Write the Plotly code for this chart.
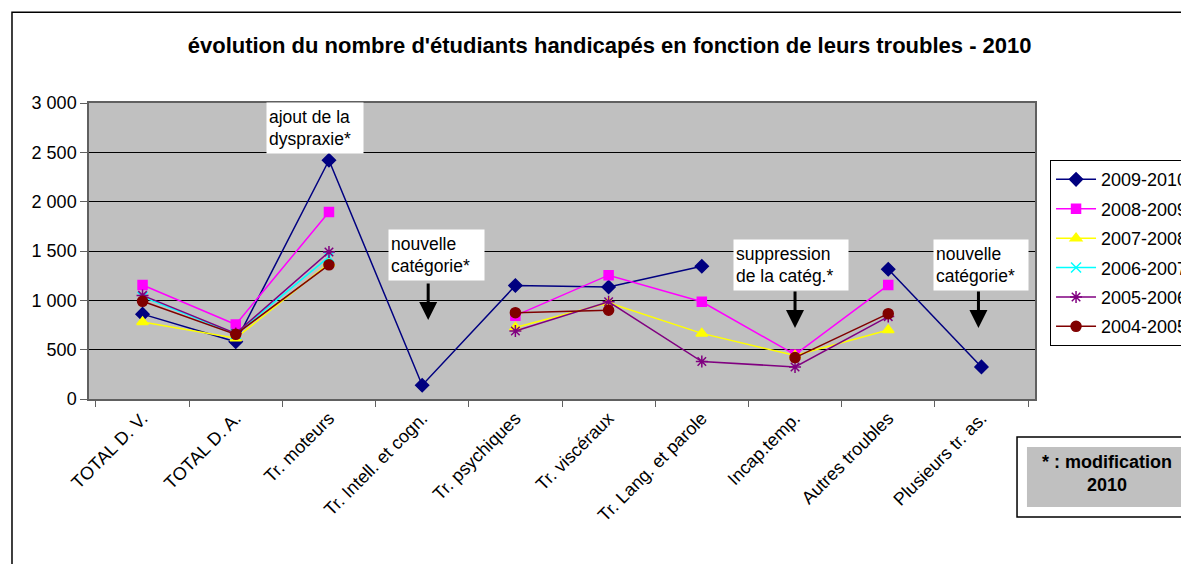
import plotly.graph_objects as go

# Data
categories = ["TOTAL D. V.", "TOTAL D. A.", "Tr. moteurs", "Tr. Intell. et cogn.", "Tr. psychiques",
              "Tr. viscéraux", "Tr. Lang. et parole", "Incap.temp.", "Autres troubles", "Plusieurs tr. as."]

y_2009_2010 = [860, 580, 2420, 140, 1150, 1135, 1345, None, 1315, 325]
y_2008_2009 = [1155, 755, 1895, None, 845, 1255, 985, 450, 1155, None]
y_2007_2008 = [780, 615, 1375, None, 725, 975, 665, 440, 700, None]
y_2006_2007 = [1035, 660, 1440, None, None, None, None, None, None, None]
y_2005_2006 = [1050, 665, 1490, None, 690, 985, 380, 325, 835, None]
y_2004_2005 = [990, 655, 1360, None, 875, 900, None, 420, 865, None]

series_names = ["2009-2010", "2008-2009", "2007-2008", "2006-2007", "2005-2006", "2004-2005"]
series_values = [y_2009_2010, y_2008_2009, y_2007_2008, y_2006_2007, y_2005_2006, y_2004_2005]
colors = ["#000080", "#FF00FF", "#FFFF00", "#00FFFF", "#800080", "#800000"]
symbols = ["diamond", "square", "triangle-up", "x-thin-open", "asterisk-open", "circle"]
sizes = [10, 9, 10, 10, 10, 10]

y_ticks = [0, 500, 1000, 1500, 2000, 2500, 3000]
y_tick_labels = ["0", "500", "1 000", "1 500", "2 000", "2 500", "3 000"]

# Make figure
fig = go.Figure()
for name, vals, col, sym, sz in zip(series_names, series_values, colors, symbols, sizes):
    fig.add_trace(go.Scatter(
        x=categories, y=vals, name=name, mode="lines+markers",
        legendgroup=name,
        line=dict(color=col, width=1.5),
        marker=dict(symbol=sym, size=sz, color=col, line=dict(color=col, width=1.5)),
    ))

font = "Arial, Liberation Sans, sans-serif"

# Text boxes (text, category, y value, x shift, box width)
notes = [
    ("ajout de la<br>dyspraxie*", "Tr. moteurs", 2745, -14, 92),
    ("nouvelle<br>catégorie*", "Tr. Intell. et cogn.", 1460, 14, 91),
    ("suppression<br>de la catég.*", "Incap.temp.", 1360, -4, 110),
    ("nouvelle<br>catégorie*", "Plusieurs tr. as.", 1360, 0, 90),
]
for txt, cat, yv, xs, w in notes:
    fig.add_annotation(x=cat, y=yv, text=txt, showarrow=False, xshift=xs,
                       width=w, height=46, bgcolor="white", borderpad=2, align="left",
                       font=dict(family=font, size=17.5, color="black"))

# Arrows
arrows = [("Tr. Intell. et cogn.", 800, 6), ("Incap.temp.", 720, 0), ("Plusieurs tr. as.", 720, -3)]
for cat, yv, xs in arrows:
    fig.add_annotation(x=cat, y=yv, text="", showarrow=True, ax=0, ay=-38, xshift=xs,
                       arrowhead=2, arrowsize=1.2, arrowwidth=3, arrowcolor="black")

# Modification box
fig.add_shape(type="rect", xref="paper", yref="paper", x0=0.981, x1=1.2, y0=-0.399, y1=-0.128,
              line=dict(color="black", width=1.5), fillcolor="white", layer="above")
fig.add_shape(type="rect", xref="paper", yref="paper", x0=0.9915, x1=1.2, y0=-0.365, y1=-0.162,
              line=dict(width=0), fillcolor="#C0C0C0", layer="above")
fig.add_annotation(xref="paper", yref="paper", x=1.076, y=-0.253, xanchor="center", yanchor="middle",
                   showarrow=False, text="<b>* : modification<br>2010</b>",
                   font=dict(family=font, size=18, color="black"))

# Outer chart border
fig.add_shape(type="rect", xref="paper", yref="paper", x0=-0.0814, x1=1.2, y0=-0.6, y1=1.307,
              line=dict(color="black", width=1.5), layer="below")

# page body has an 8px margin, so margins are shifted by 8px
fig.update_layout(
    width=1189, height=564,
    margin=dict(l=81, r=162, t=95, b=173, autoexpand=False),
    paper_bgcolor="white", plot_bgcolor="#C0C0C0",
    font=dict(family=font, size=18, color="black"),
    title=dict(text="<b>évolution du nombre d'étudiants handicapés en fonction de leurs troubles - 2010</b>",
               x=0.506, xanchor="center", y=0.934, yanchor="middle",
               font=dict(family=font, size=22, color="black")),
    legend=dict(x=1.0159, y=0.807, xanchor="left", yanchor="top",
                bgcolor="white", bordercolor="black", borderwidth=1, itemwidth=40,
                font=dict(family=font, size=18), tracegroupgap=3),
    showlegend=True,
)

fig.update_xaxes(type="category", tickangle=-45, tickson="boundaries", ticks="outside",
                 ticklen=6, tickcolor="#606060", showgrid=False, showline=True,
                 linecolor="#606060", linewidth=1.5, mirror=True, tickfont=dict(size=18))
fig.update_yaxes(range=[0, 3000], tickvals=y_ticks, ticktext=y_tick_labels, ticks="outside",
                 ticklen=7, tickcolor="#606060", showgrid=True, gridcolor="black", gridwidth=1,
                 showline=True, linecolor="#606060", linewidth=1.5, mirror=True, zeroline=False,
                 tickfont=dict(size=18))

fig.write_html("out.html")
